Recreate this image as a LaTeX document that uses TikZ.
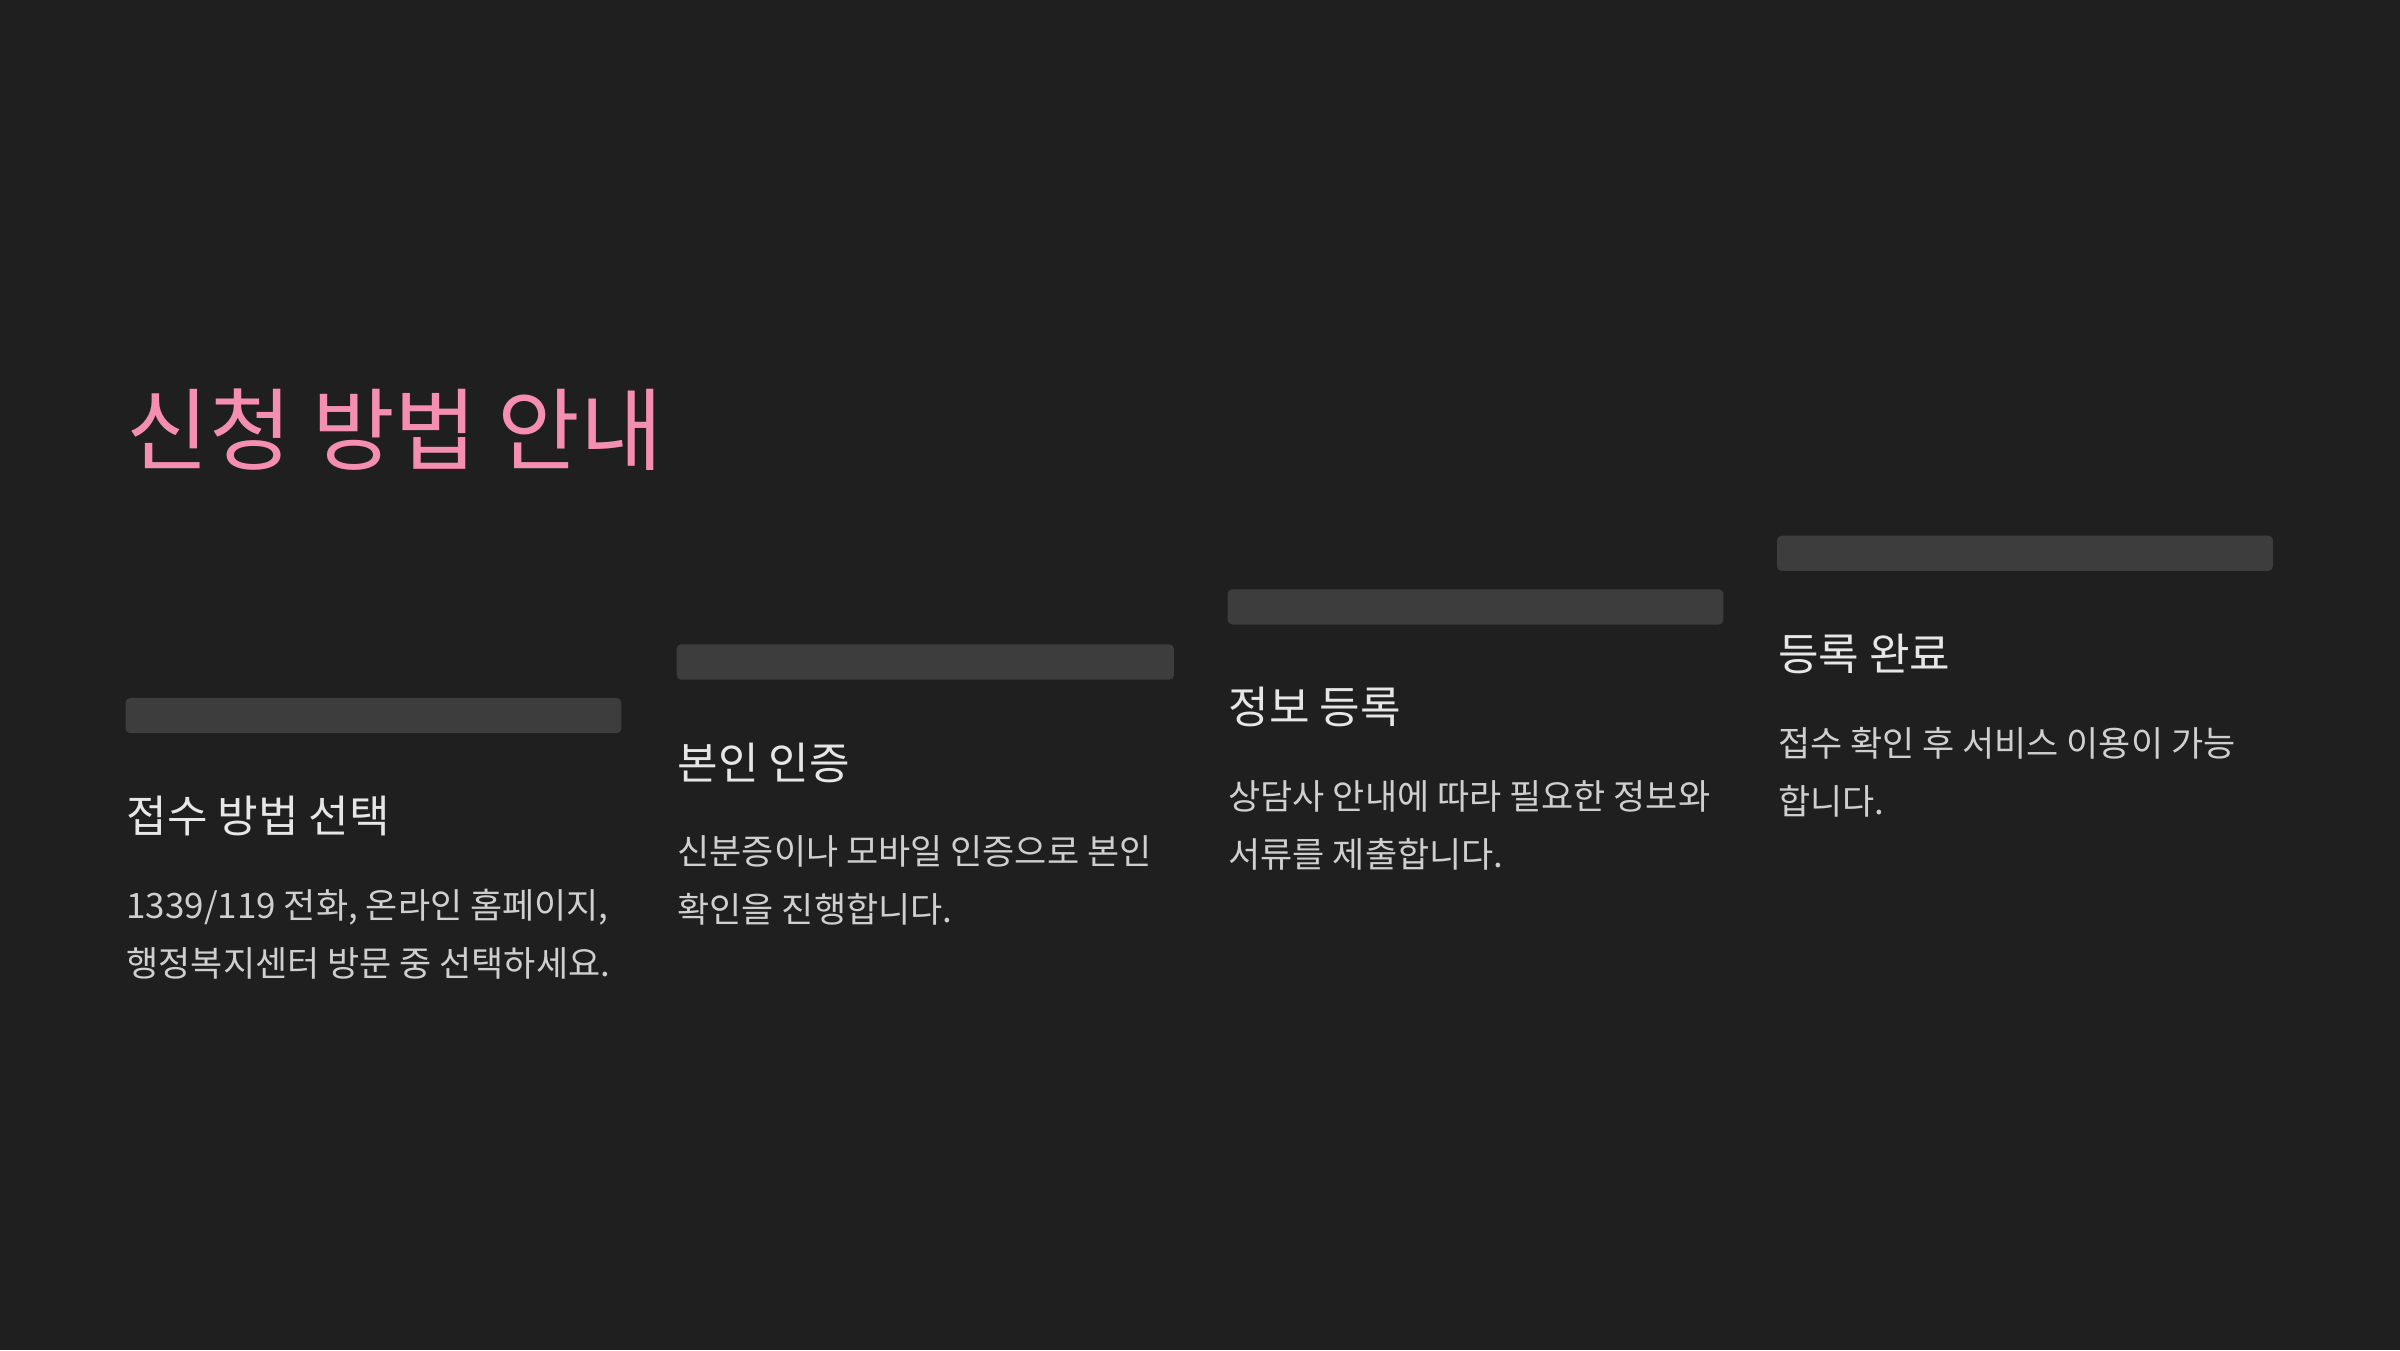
\documentclass[tikz,border=0pt]{standalone}
\usepackage{fontspec}
\setmainfont{Noto Sans CJK KR}
\usetikzlibrary{positioning}
\definecolor{bgcol}{HTML}{1F1F1F}
\definecolor{barcol}{HTML}{3D3D3D}
\definecolor{titlecol}{HTML}{F48FB1}
\definecolor{headcol}{HTML}{E6E6E6}
\definecolor{textcol}{HTML}{CFCFCF}
\tikzset{bar/.style = {fill=barcol,rounded corners=0.3mm},
         stephead/.style = {anchor=base west,inner sep=0pt,text=headcol,font=\fontsize{8.2pt}{10pt}\selectfont},
         stepbody/.style = {anchor=base west,inner sep=0pt,text=textcol,align=left,font=\fontsize{6.5pt}{10.8pt}\selectfont}}
\begin{document}
\begin{tikzpicture}[x=0.1mm,y=-0.1mm]
                    \fill[bgcol] (0,0) rectangle (1568,882);
                    \node[anchor=base west,inner sep=0pt,text=titlecol,font=\fontsize{16.7pt}{20pt}\selectfont] (title) at (82,303) {신청 방법 안내};

                    \fill[bar] (82,456) rectangle (406,479);
                    \fill[bar] (442,421) rectangle (767,444);
                    \fill[bar] (802,385) rectangle (1126,408);
                    \fill[bar] (1161,350) rectangle (1485,373);

                    \node[stephead] (h1) at (82,544) {접수 방법 선택};
                    \node[stephead] (h2) at (442,509) {본인 인증};
                    \node[stephead] (h3) at (802,473) {정보 등록};
                    \node[stephead] (h4) at (1161,438) {등록 완료};

                    \node[stepbody] (b1) at (82,638) {1339/119 전화, 온라인 홈페이지,\\행정복지센터 방문 중 선택하세요.};
                    \node[stepbody] (b2) at (442,603) {신분증이나 모바일 인증으로 본인\\확인을 진행합니다.};
                    \node[stepbody] (b3) at (802,567) {상담사 안내에 따라 필요한 정보와\\서류를 제출합니다.};
                    \node[stepbody] (b4) at (1161,532) {접수 확인 후 서비스 이용이 가능\\합니다.};
                \end{tikzpicture}
\end{document}
